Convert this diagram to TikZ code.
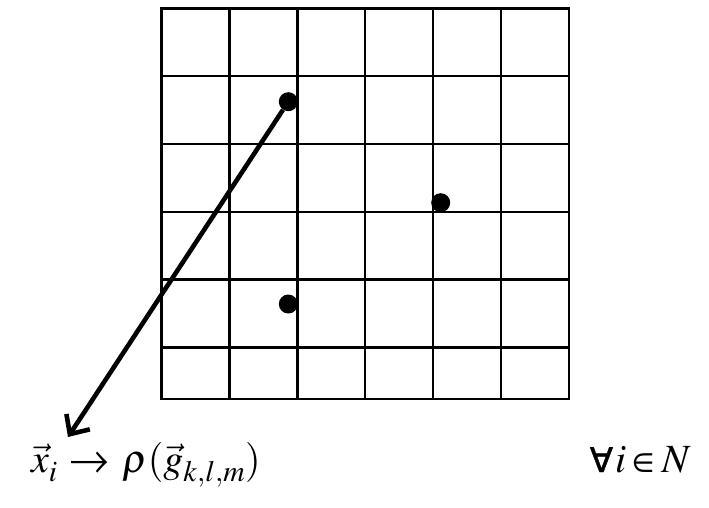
\documentclass[tikz,border=0pt]{standalone}
\usepackage{mathptmx}
\usepackage{pifont}
\usepackage{fontspec}
\newfontfamily\forallfont[FakeBold=1.2]{DejaVu Sans}
\usetikzlibrary{arrows.meta}
\newcommand{\symch}[1]{\mbox{\Pisymbol{psy}{#1}}}
\begin{document}
\begin{tikzpicture}[x=1pt,y=-1pt,
  gridline/.style={line width=2.4pt},
  dot/.style={circle,fill=black,inner sep=0pt,minimum size=19pt},
  lbl/.style={font=\fontsize{40}{46}\selectfont,inner sep=0pt},
  pointer/.style={line width=4.6pt,-{Straight Barb[length=15pt,width=28pt,line width=4.6pt]}}]
\useasboundingbox (0,0) rectangle (709,507);
\foreach \x in {229.5,297.3,365,432.7,500.7}
  \draw[gridline] (\x,8.3) -- (\x,399);
\foreach \y in {76,144,211.7,279.3,347.3}
  \draw[gridline] (161.5,\y) -- (569,\y);
\draw[gridline] (161.5,8.3) rectangle (569,399);
\node[dot] (d1) at (288.3,101.7) {};
\node[dot] (d2) at (440.7,202.7) {};
\node[dot] (d3) at (288.3,304) {};
\coordinate (tip) at (68,437);
\draw[pointer] (d1) -- (tip);
\node[lbl,anchor=base west] (f1) at (31,472)
  {$\vec{x}_{\raisebox{-3pt}{$\scriptstyle i$}\,}\mathrel{\symch{174}}\,\rho(\vec{g}_{\raisebox{-3pt}{$\scriptstyle k,l,m$}})$};
\node[lbl,anchor=base east] (f2) at (691,472)
  {{\fontsize{34}{40}\forallfont ∀}\kern2pt$i$\kern6pt\symch{206}\kern1pt$N$};
\end{tikzpicture}
\end{document}
